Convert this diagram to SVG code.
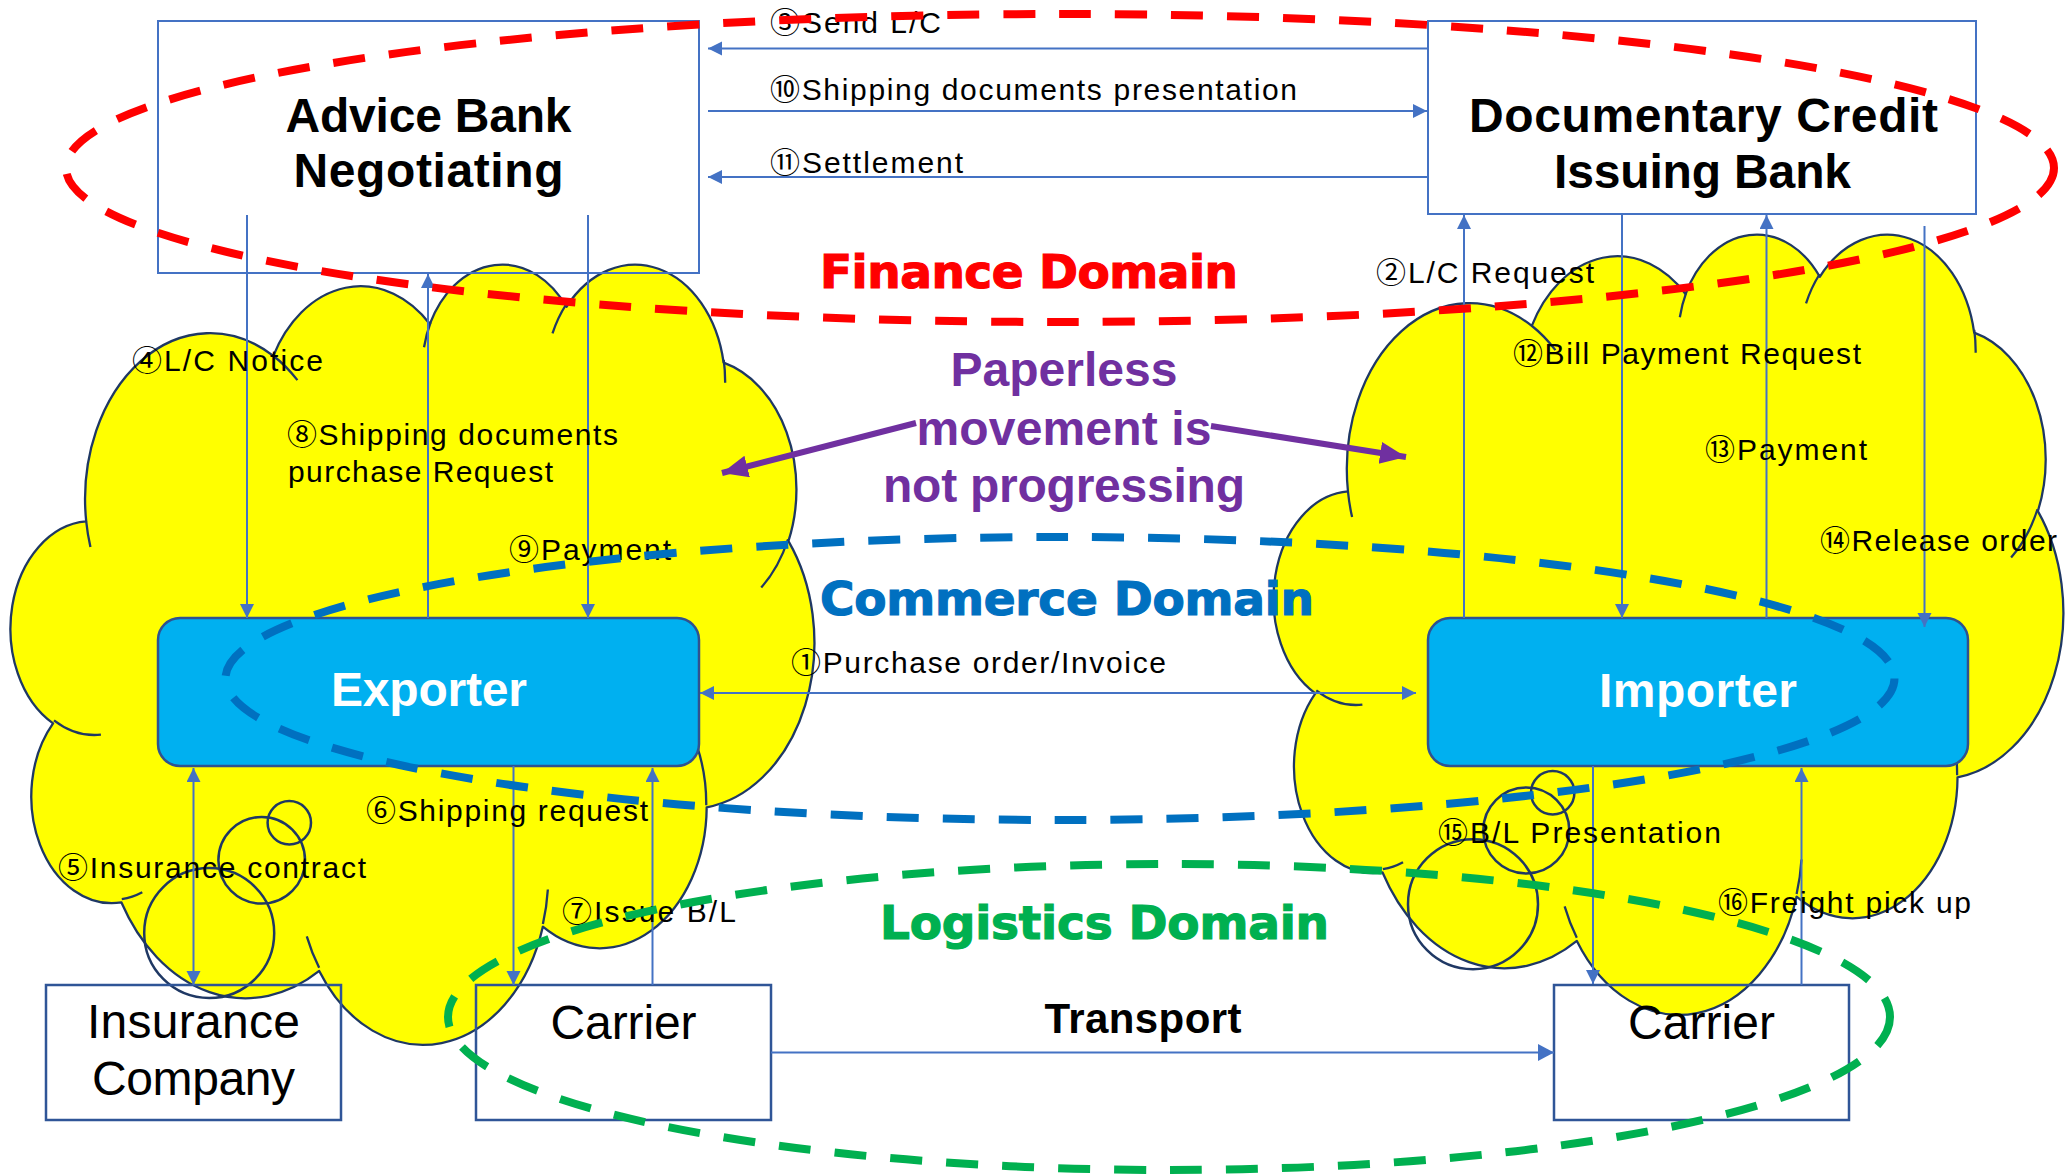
<svg xmlns="http://www.w3.org/2000/svg" width="2067" height="1175" viewBox="0 0 2067 1175">
<defs>
<style>
.lbl{font-family:"Liberation Sans","Noto Sans CJK JP",sans-serif;font-size:30px;fill:#000}
.ttl{font-family:"Liberation Sans","Noto Sans CJK JP",sans-serif;font-size:48px;font-weight:bold;fill:#000;text-anchor:middle}
.wht{fill:#fff}
.reg{font-family:"Liberation Sans","Noto Sans CJK JP",sans-serif;font-size:48px;fill:#000;text-anchor:middle}
.dom{font-family:"DejaVu Sans",sans-serif;font-size:47px;font-weight:bold;stroke-width:1.2}
.ppl{font-family:"Liberation Sans",sans-serif;font-size:48px;font-weight:bold;fill:#7030A0;text-anchor:middle}
.conn{stroke:#4472C4;stroke-width:2;fill:none}
.box{fill:none;stroke:#4472C4;stroke-width:2}
.box2{fill:none;stroke:#2F5597;stroke-width:2.5}
.actor{fill:#00B0F0;stroke:#2F528F;stroke-width:2.5}
.ring{fill:none;stroke:#1F3864;stroke-width:2.5}
.dash{fill:none;stroke-width:8;stroke-dasharray:32 24}
</style>
<marker id="ah" markerUnits="userSpaceOnUse" markerWidth="16" markerHeight="16" refX="14" refY="7" orient="auto-start-reverse"><path d="M0,0 L14,7 L0,14 Z" fill="#4472C4"/></marker>
<marker id="ahT" markerUnits="userSpaceOnUse" markerWidth="18" markerHeight="18" refX="16" refY="8.5" orient="auto"><path d="M0,0 L16,8.5 L0,17 Z" fill="#4472C4"/></marker>
<marker id="ahP" markerUnits="userSpaceOnUse" markerWidth="28" markerHeight="24" refX="26" refY="11" orient="auto"><path d="M0,0 L26,11 L0,22 Z" fill="#7030A0"/></marker>
<g id="cloudShape" stroke="#1F3864" stroke-width="125" stroke-linejoin="round">
<path fill="#FFFF00" d="M3900,14370 A6753,9190 0 0 1 14003,5201 A5333,7267 0 0 1 22456,3432 A4365,5945 0 0 1 29833,2481 A4857,6595 0 0 1 38318,5576 A5333,7273 0 0 1 41819,15460 A6775,9220 0 0 1 37404,30203 A5785,7867 0 0 1 28556,36814 A6752,9215 0 0 1 16481,39266 A7720,10543 0 0 1 5802,35471 A4360,5918 0 0 1 2109,25551 A4345,5945 0 0 1 3900,14370 Z"/>
<path fill="none" d="M4693,26177 A4345,5945 0 0 1 2159,25380 M6928,34899 A4360,5918 0 0 1 5820,35280 M16478,39090 A6752,9215 0 0 1 15810,37350 M28827,34751 A6752,9215 0 0 1 28560,36660 M34129,22954 A5785,7867 0 0 1 37381,30090 M41798,15354 A5333,7273 0 0 1 40350,18030 M38324,5426 A4857,6595 0 0 1 38400,6690 M29078,3952 A4857,6595 0 0 1 29820,2341 M22141,4720 A4365,5945 0 0 1 22500,3330 M14000,5192 A6753,9190 0 0 1 15304,6545 M4127,15789 A6753,9190 0 0 1 3900,14372"/>
</g>
</defs>
<rect width="2067" height="1175" fill="#fff"/>

<g id="cloud-exporter">
<use href="#cloudShape" transform="translate(14,262) scale(0.018519,0.018056)"/>
<circle class="ring" cx="289.3" cy="822.7" r="21.7"/>
<circle class="ring" cx="261.7" cy="860.3" r="43.3"/>
<circle class="ring" cx="209.2" cy="933" r="65"/>
</g>
<g id="cloud-importer">
<use href="#cloudShape" transform="translate(1277,232) scale(0.018194,0.018056)"/>
<circle class="ring" cx="1552.7" cy="792.7" r="21.7"/>
<circle class="ring" cx="1526.3" cy="830.5" r="43"/>
<circle class="ring" cx="1473" cy="904.2" r="65"/>
</g>

<g id="advice-bank">
<rect class="box" x="158" y="21" width="541" height="252"/>
<text class="ttl" x="428.5" y="132" textLength="286">Advice Bank</text>
<text class="ttl" x="428.5" y="187" textLength="270">Negotiating</text>
</g>
<g id="issuing-bank">
<rect class="box" x="1428" y="21" width="548" height="193"/>
<text class="ttl" x="1703.5" y="132" textLength="469">Documentary Credit</text>
<text class="ttl" x="1702.5" y="188" textLength="297">Issuing Bank</text>
</g>
<g id="exporter">
<rect class="actor" x="158" y="618" width="541" height="148" rx="22"/>
<text class="ttl wht" x="429" y="706" textLength="196">Exporter</text>
</g>
<g id="importer">
<rect class="actor" x="1428" y="618" width="540" height="148" rx="22"/>
<text class="ttl wht" x="1698" y="707" textLength="198">Importer</text>
</g>
<g id="insurance-company">
<rect class="box2" x="46" y="985" width="295" height="135"/>
<text class="reg" x="193.5" y="1038" textLength="213">Insurance</text>
<text class="reg" x="193.5" y="1095" textLength="203">Company</text>
</g>
<g id="carrier-export">
<rect class="box2" x="476" y="985" width="295" height="135"/>
<text class="reg" x="623.5" y="1039" textLength="146">Carrier</text>
</g>
<g id="carrier-import">
<rect class="box2" x="1554" y="985" width="295" height="135"/>
<text class="reg" x="1701.5" y="1039" textLength="147">Carrier</text>
</g>

<g id="connectors">
<path class="conn" d="M1428,48.5 H708" marker-end="url(#ah)"/>
<path class="conn" d="M708,111 H1427" marker-end="url(#ah)"/>
<path class="conn" d="M1428,177 H708" marker-end="url(#ah)"/>
<path class="conn" d="M247,215 V618" marker-end="url(#ah)"/>
<path class="conn" d="M428,618 V274" marker-end="url(#ah)"/>
<path class="conn" d="M588,215 V618" marker-end="url(#ah)"/>
<path class="conn" d="M193.5,768 V985" marker-start="url(#ah)" marker-end="url(#ah)"/>
<path class="conn" d="M513.5,766 V985" marker-end="url(#ah)"/>
<path class="conn" d="M652.5,985 V768" marker-end="url(#ah)"/>
<path class="conn" d="M700,693 H1416" marker-start="url(#ah)" marker-end="url(#ah)"/>
<path class="conn" d="M1464,618 V215" marker-end="url(#ah)"/>
<path class="conn" d="M1622,214 V618" marker-end="url(#ah)"/>
<path class="conn" d="M1766.5,618 V215" marker-end="url(#ah)"/>
<path class="conn" d="M1924.5,226 V627" marker-end="url(#ah)"/>
<path class="conn" d="M1593,766 V984" marker-end="url(#ah)"/>
<path class="conn" d="M1801.5,985 V768" marker-end="url(#ah)"/>
<path class="conn" d="M771,1052.5 H1554" stroke-width="4.5" marker-end="url(#ahT)"/>
</g>

<g id="labels">
<text class="lbl" x="770" y="33" textLength="171">③Send L/C</text>
<text class="lbl" x="770" y="100" textLength="527">⑩Shipping documents presentation</text>
<text class="lbl" x="770" y="173" textLength="193">⑪Settlement</text>
<text class="lbl" x="1376" y="283" textLength="218">②L/C Request</text>
<text class="lbl" x="132" y="371" textLength="191">④L/C Notice</text>
<text class="lbl" x="287" y="445" textLength="331">⑧Shipping documents</text>
<text class="lbl" x="288" y="482" textLength="265">purchase Request</text>
<text class="lbl" x="509" y="560" textLength="162">⑨Payment</text>
<text class="lbl" x="791" y="673" textLength="375">①Purchase order/Invoice</text>
<text class="lbl" x="366" y="821" textLength="282">⑥Shipping request</text>
<text class="lbl" x="58" y="878" textLength="308">⑤Insurance contract</text>
<text class="lbl" x="562" y="922" textLength="174">⑦Issue B/L</text>
<text class="lbl" x="1513" y="364" textLength="348">⑫Bill Payment Request</text>
<text class="lbl" x="1705" y="460" textLength="162">⑬Payment</text>
<text class="lbl" x="1820" y="551" textLength="237">⑭Release order</text>
<text class="lbl" x="1438" y="843" textLength="283">⑮B/L Presentation</text>
<text class="lbl" x="1718" y="913" textLength="253">⑯Freight pick up</text>
<text x="1143" y="1033" font-family="Liberation Sans, sans-serif" font-size="42" font-weight="bold" text-anchor="middle" textLength="197">Transport</text>
</g>

<g id="paperless">
<path d="M916,423 L722,473" stroke="#7030A0" stroke-width="6" fill="none" marker-end="url(#ahP)"/>
<path d="M1211,426 L1406,457" stroke="#7030A0" stroke-width="6" fill="none" marker-end="url(#ahP)"/>
<text class="ppl" x="1064" y="386" textLength="227">Paperless</text>
<text class="ppl" x="1064" y="445" textLength="295">movement is</text>
<text class="ppl" x="1064" y="502" textLength="362">not progressing</text>
</g>

<g id="domains">
<ellipse class="dash" cx="1060" cy="168" rx="994" ry="154" stroke="#FF0000"/>
<ellipse class="dash" cx="1060" cy="678.5" rx="834.5" ry="141.5" stroke="#0070C0"/>
<ellipse class="dash" cx="1169" cy="1017" rx="721" ry="153" stroke="#00B050"/>
<text class="dom" x="820" y="288" textLength="418" fill="#FF0000" stroke="#FF0000">Finance Domain</text>
<text class="dom" x="820" y="615" textLength="494" fill="#0070C0" stroke="#0070C0">Commerce Domain</text>
<text class="dom" x="880" y="939" textLength="449" fill="#00B050" stroke="#00B050">Logistics Domain</text>
</g>
</svg>
